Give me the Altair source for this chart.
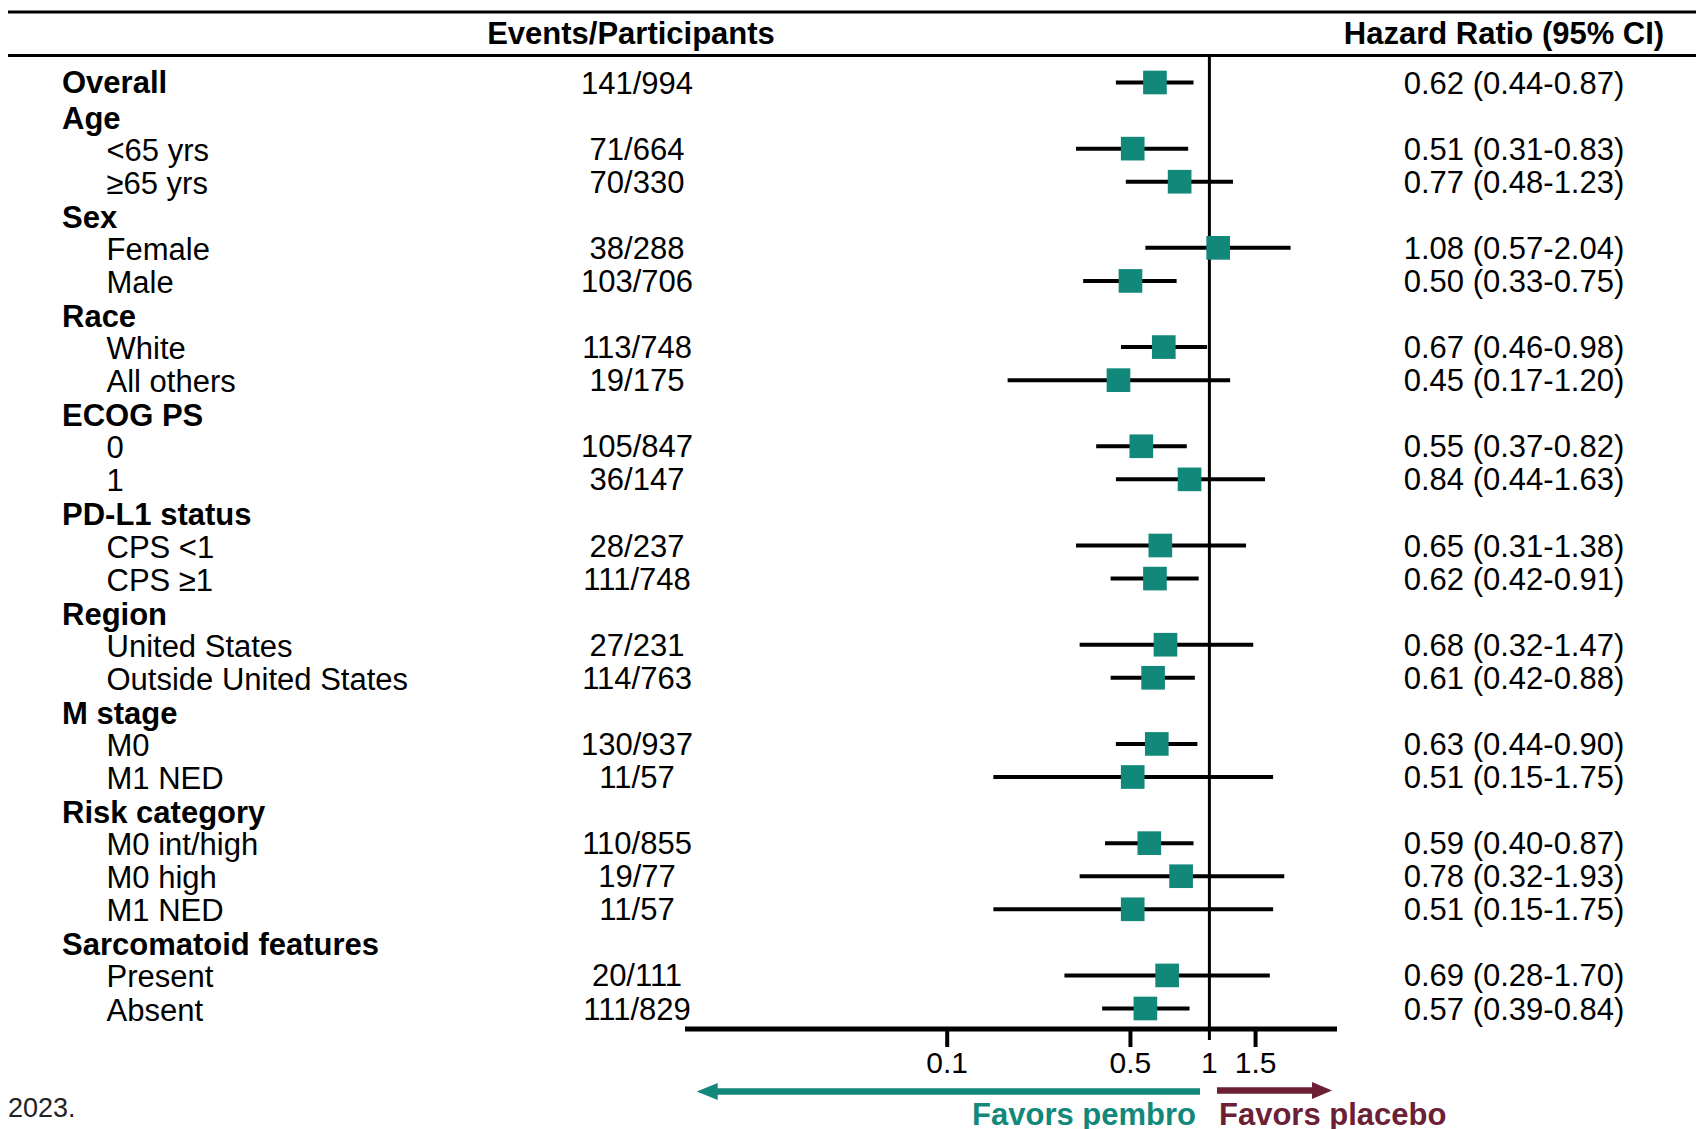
import altair as alt
import pandas as pd

# ---------------- data ----------------
labels = ["Overall", "Age", "<65 yrs", "≥65 yrs", "Sex", "Female", "Male", "Race",
          "White", "All others", "ECOG PS", "0", "1", "PD-L1 status", "CPS <1", "CPS ≥1",
          "Region", "United States", "Outside United States", "M stage", "M0", "M1 NED",
          "Risk category", "M0 int/high", "M0 high", "M1 NED", "Sarcomatoid features",
          "Present", "Absent"]
is_header = [True, True, False, False, True, False, False, True, False, False, True,
             False, False, True, False, False, True, False, False, True, False, False,
             True, False, False, False, True, False, False]
events = ["141/994", "", "71/664", "70/330", "", "38/288", "103/706", "", "113/748",
          "19/175", "", "105/847", "36/147", "", "28/237", "111/748", "", "27/231",
          "114/763", "", "130/937", "11/57", "", "110/855", "19/77", "11/57", "",
          "20/111", "111/829"]
hr = [0.62, None, 0.51, 0.77, None, 1.08, 0.50, None, 0.67, 0.45, None, 0.55, 0.84,
      None, 0.65, 0.62, None, 0.68, 0.61, None, 0.63, 0.51, None, 0.59, 0.78, 0.51,
      None, 0.69, 0.57]
lo = [0.44, None, 0.31, 0.48, None, 0.57, 0.33, None, 0.46, 0.17, None, 0.37, 0.44,
      None, 0.31, 0.42, None, 0.32, 0.42, None, 0.44, 0.15, None, 0.40, 0.32, 0.15,
      None, 0.28, 0.39]
hi = [0.87, None, 0.83, 1.23, None, 2.04, 0.75, None, 0.98, 1.20, None, 0.82, 1.63,
      None, 1.38, 0.91, None, 1.47, 0.88, None, 0.90, 1.75, None, 0.87, 1.93, 1.75,
      None, 1.70, 0.84]
tick_values = [0.1, 0.5, 1.5]
tick_labels = ["0.1", "0.5", "1", "1.5"]
tick_label_values = [0.1, 0.5, 1, 1.5]
col_titles = ["Events/Participants", "Hazard Ratio (95% CI)"]

TEAL = "#12887a"
MAROON = "#6b2036"
FONT = "Liberation Sans, Arial, Helvetica, sans-serif"
FS = 31

rows = []
for i, lab in enumerate(labels):
    txt = "" if hr[i] is None else f"{hr[i]:.2f} ({lo[i]:.2f}-{hi[i]:.2f})"
    rows.append(dict(row=i, label=lab, header=is_header[i], events=events[i],
                     hr=hr[i], lo=lo[i], hi=hi[i], hrtext=txt))
df = pd.DataFrame(rows)
est = df.dropna(subset=["hr"])

W, H = 1688, 1121
xs = alt.Scale(type="log", domain=[0.01, 3.067], range=[677, 1329])
ys = alt.Scale(domain=[0, 28], range=[74.5, 1000.5])

base = alt.Chart(df)
X = lambda f: alt.X(f, scale=xs, axis=None)
Y = alt.Y("row:Q", scale=ys, axis=None)

# header rules
rules_df = pd.DataFrame({"k": [0, 1]})
top_rule = alt.Chart(rules_df).transform_filter("datum.k==0").mark_rule(
    color="black", strokeWidth=3).encode(x=alt.value(0), x2=alt.value(W), y=alt.value(4))
mid_rule = alt.Chart(rules_df).transform_filter("datum.k==1").mark_rule(
    color="black", strokeWidth=3).encode(x=alt.value(0), x2=alt.value(W), y=alt.value(47.5))

titles = alt.Chart(pd.DataFrame({"t": col_titles, "xp": [623, 1496]})).mark_text(
    font=FONT, fontSize=FS, fontWeight="bold", align="center", baseline="middle",
    color="black").encode(text="t:N", x=alt.X("xp:Q", scale=None), y=alt.value(27))

overall_text = base.transform_filter("datum.row == 0").mark_text(
    font=FONT, fontSize=FS, fontWeight="bold", align="left", baseline="middle",
    color="black", dy=1).encode(text="label:N", x=alt.value(54), y=Y)
hdr_text = base.transform_filter("datum.header && datum.row > 0").mark_text(
    font=FONT, fontSize=FS, fontWeight="bold", align="left", baseline="middle",
    color="black", dy=4).encode(text="label:N", x=alt.value(54), y=Y)
sub_text = base.transform_filter("!datum.header").mark_text(
    font=FONT, fontSize=FS, align="left", baseline="middle",
    color="black", dy=3).encode(text="label:N", x=alt.value(98.5), y=Y)
ev_text = base.mark_text(font=FONT, fontSize=FS, align="center", baseline="middle",
                         color="black", dy=2).encode(text="events:N", x=alt.value(629), y=Y)
hr_text = base.mark_text(font=FONT, fontSize=FS, align="center", baseline="middle",
                         color="black", dy=2).encode(text="hrtext:N", x=alt.value(1506), y=Y)

ci = alt.Chart(est).mark_rule(color="black", strokeWidth=4).encode(
    x=X("lo:Q"), x2="hi:Q", y=Y)
sq = alt.Chart(est).mark_square(size=560, color=TEAL, opacity=1).encode(
    x=X("hr:Q"), y=Y)

ref = alt.Chart(pd.DataFrame({"v": [1.0]})).mark_rule(color="black", strokeWidth=3).encode(
    x=X("v:Q"), y=alt.value(47), y2=alt.value(1032))

axis_df = pd.DataFrame({"a": [0.01], "b": [3.067]})
axis_line = alt.Chart(axis_df).mark_rule(color="black", strokeWidth=5).encode(
    x=X("a:Q"), x2="b:Q", y=alt.value(1021))
ticks = alt.Chart(pd.DataFrame({"t": tick_values})).mark_rule(
    color="black", strokeWidth=4).encode(x=X("t:Q"), y=alt.value(1021), y2=alt.value(1039))
tick_text = alt.Chart(pd.DataFrame({"t": tick_label_values, "lab": tick_labels})).mark_text(
    font=FONT, fontSize=30, align="center", baseline="middle", color="black").encode(
    x=X("t:Q"), y=alt.value(1056), text="lab:N")

# favour arrows
arr_df = pd.DataFrame({"k": [0]})
teal_shaft = alt.Chart(arr_df).mark_rule(color=TEAL, strokeWidth=6.5).encode(
    x=alt.value(708), x2=alt.value(1192), y=alt.value(1083.5))
teal_head = alt.Chart(arr_df).mark_point(
    shape="M-1,0L1,-0.8L1,0.8Z", size=441, filled=True, opacity=1, color=TEAL,
    strokeWidth=0).encode(x=alt.value(699.2), y=alt.value(1083.5))
mar_shaft = alt.Chart(arr_df).mark_rule(color=MAROON, strokeWidth=6.5).encode(
    x=alt.value(1209), x2=alt.value(1307), y=alt.value(1082.5))
mar_head = alt.Chart(arr_df).mark_point(
    shape="M1,0L-1,-0.84L-1,0.84Z", size=400, filled=True, opacity=1, color=MAROON,
    strokeWidth=0).encode(x=alt.value(1314), y=alt.value(1082.5))
fav_df = pd.DataFrame({"t": ["Favors pembro", "Favors placebo"]})
fav_p = alt.Chart(fav_df).transform_filter("datum.t=='Favors pembro'").mark_text(
    font=FONT, fontSize=FS, fontWeight="bold", align="right", baseline="alphabetic",
    color=TEAL).encode(text="t:N", x=alt.value(1188), y=alt.value(1117))
fav_q = alt.Chart(fav_df).transform_filter("datum.t=='Favors placebo'").mark_text(
    font=FONT, fontSize=FS, fontWeight="bold", align="left", baseline="alphabetic",
    color=MAROON).encode(text="t:N", x=alt.value(1211), y=alt.value(1117))

foot = alt.Chart(pd.DataFrame({"t": ["2023."]})).mark_text(
    font=FONT, fontSize=27, align="left", baseline="alphabetic", color="#222222").encode(
    text="t:N", x=alt.value(0), y=alt.value(1109))

chart = alt.layer(
    top_rule, mid_rule, titles, overall_text, hdr_text, sub_text, ev_text, hr_text,
    ref, ci, sq, axis_line, ticks, tick_text,
    teal_shaft, teal_head, mar_shaft, mar_head, fav_p, fav_q, foot
).properties(
    width=W, height=H, autosize=alt.AutoSizeParams(type="none"), padding=0,
    background="white"
).configure_view(stroke=None)

chart.save("out.html", embed_options={"renderer": "svg", "actions": False})
